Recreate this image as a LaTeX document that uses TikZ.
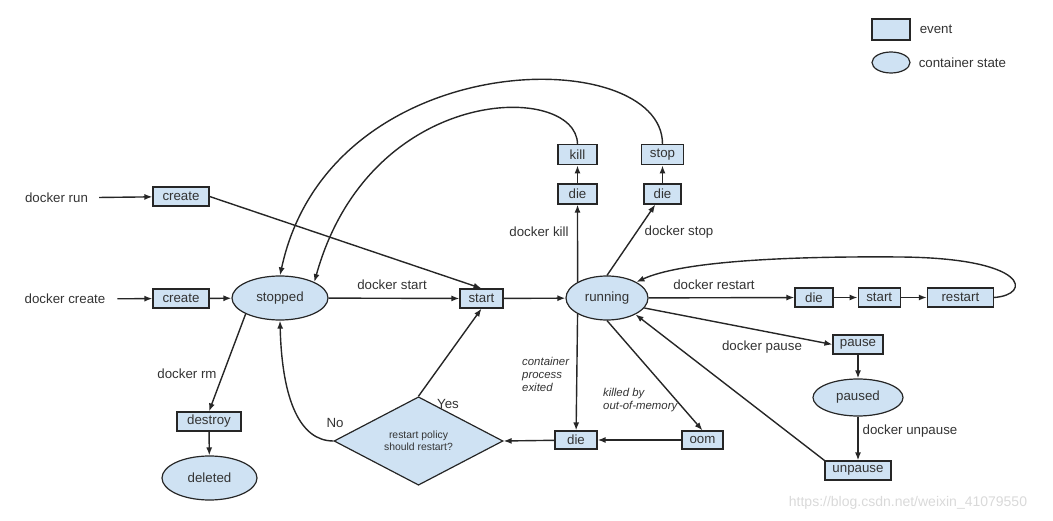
\documentclass[tikz,border=0pt]{standalone}
\usepackage{fontspec}
\setmainfont{Liberation Sans}
\usetikzlibrary{shapes,arrows.meta,positioning}
\definecolor{evfill}{HTML}{CFE2F3}
\definecolor{inkline}{HTML}{262626}
\definecolor{inktext}{HTML}{333333}
\newcommand*{\fsmain}{\fontsize{13.3pt}{15pt}\selectfont}
\newcommand*{\fsnote}{\fontsize{11.4pt}{13pt}\selectfont}
\newcommand*{\fsdiam}{\fontsize{10.4pt}{12pt}\selectfont}

\begin{document}
\begin{tikzpicture}[x=1pt, y=-1pt,
    block_event/.style ={rectangle, draw=inkline, line width=1.2pt, fill=evfill, font=\fsmain,
      text=inktext, inner sep=0pt, minimum height=19pt},
    block_state/.style ={ellipse, draw=inkline, line width=1.2pt, fill=evfill, font=\fsmain,
      text=inktext, inner sep=0pt, minimum width=90pt, minimum height=44pt},
    block_decision/.style ={diamond, draw=inkline, line width=1.2pt, fill=evfill, font=\fsdiam,
      text=inktext, align=center, inner sep=0pt, minimum width=169pt, minimum height=60pt},
    block_cmd/.style ={font=\fsmain, text=inktext, inner sep=0pt, inner xsep=11pt},
    block_note/.style ={font=\fsnote\itshape, text=inktext, align=left, inner sep=0pt, anchor=west},
    line/.style ={draw=inkline, line width=1.4pt, -{Latex[length=8pt,width=6pt]}}]
    \useasboundingbox (0,0) rectangle (1053,521);
    % legend
    \node [block_event, minimum width=38pt, minimum height=21pt] (keyevent) at (891,29.5) {};
    \node [font=\fsmain, text=inktext, anchor=west, inner sep=0pt] (keyeventtxt) [right=9pt of keyevent] {event};
    \node [block_state, minimum width=38pt, minimum height=21pt] (keystate) at (891,62.5) {};
    \node [font=\fsmain, text=inktext, anchor=west, inner sep=0pt] (keystatetxt) [right=8pt of keystate] {container state};
    % row: create
    \node [block_cmd] (cmdrun) at (56.5,198) {docker run};
    \node [block_event, minimum width=56pt] (createrun) at (181,196.5) {create};
    \node [block_cmd, inner xsep=12pt] (cmdcreate) at (65,299) {docker create};
    \node [block_event, minimum width=56pt] (create) at (181,298.5) {create};
    % row: main states
    \node [block_state, minimum width=96pt] (stopped) at (280,298) {stopped};
    \node [block_event, minimum width=43pt] (start) at (481.5,298.5) {start};
    \node [block_state, minimum width=82pt] (running) at (607,298) {running};
    % kill / stop
    \node [block_event, minimum width=39pt, minimum height=20pt] (diekill) at (577.5,194) {die};
    \node [block_event, minimum width=39pt, minimum height=20pt] (kill) [above=18pt of diekill] {kill};
    \node [block_event, minimum width=37pt, minimum height=20pt] (diestop) at (662.5,194) {die};
    \node [block_event, minimum width=42pt, minimum height=20pt] (stop) [above=18pt of diestop] {stop};
    % restart
    \node [block_event, minimum width=38pt] (dierestart) at (814,297.5) {die};
    \node [block_event, minimum width=42pt] (startrestart) [right=24pt of dierestart] {start};
    \node [block_event, minimum width=66pt] (restart) [right=26pt of startrestart] {restart};
    % pause
    \node [block_event, minimum width=50pt] (pause) at (858,344.5) {pause};
    \node [block_state, minimum height=37pt] (paused) at (858,397.5) {paused};
    \node [block_event, minimum width=66pt] (unpause) at (858,470.5) {unpause};
    % exit
    \node [block_event, minimum width=41pt, minimum height=18pt] (oom) at (702.5,440) {oom};
    \node [block_event, minimum width=42pt, minimum height=18pt] (dieexit) at (576,440) {die};
    \node [block_decision] (policy) at (418.5,441) {restart policy\\should restart?};
    % remove
    \node [block_event, minimum width=64pt] (destroy) at (209,421.5) {destroy};
    \node [block_state, minimum width=95pt] (deleted) at (209.5,478) {deleted};
    % labels
    \node [font=\fsmain, text=inktext] (lblstart) at (392,285) {docker start};
    \node [font=\fsmain, text=inktext] (lblkill) at (539,232) {docker kill};
    \node [font=\fsmain, text=inktext] (lblstop) at (679,232) {docker stop};
    \node [font=\fsmain, text=inktext] (lblrestart) at (714,285) {docker restart};
    \node [font=\fsmain, text=inktext] (lblpause) at (762,347) {docker pause};
    \node [font=\fsmain, text=inktext] (lblunpause) at (910,431) {docker unpause};
    \node [font=\fsmain, text=inktext] (lblrm) at (187,374) {docker rm};
    \node [font=\fsmain, text=inktext] (lblyes) at (448,404) {Yes};
    \node [font=\fsmain, text=inktext] (lblno) at (335,423) {No};
    \node [block_note] (lblexited) at (522,374) {container\\process\\exited};
    \node [block_note] (lbloom) at (603,400.5) {killed by\\out-of-memory};
    \node [font=\fontsize{14pt}{16pt}\selectfont, text=black!15] (watermark) at (908,503) {https://blog.csdn.net/weixin\_41079550};
    % connecting nodes with paths
    \begin{scope}[every path/.style=line]
      \path (cmdrun)       -- (createrun);
      \path (cmdcreate)    -- (create);
      \path (createrun.east) -- (start.north);
      \path (create)       -- (stopped);
      \path (stopped)      -- (start);
      \path (start)        -- (running);
      \path (running.north west) -- (diekill);
      \path (diekill)      -- (kill);
      \path (running.north) -- (diestop);
      \path (diestop)      -- (stop);
      \path (kill.north) .. controls (577,82) and (370,82) .. (stopped.north east);
      \path (stop.north) .. controls (663,43) and (330,43) .. (stopped.north);
      \path (running)      -- (dierestart);
      \path (dierestart)   -- (startrestart);
      \path (startrestart) -- (restart);
      \path (restart.east) .. controls (1032,295) and (1030,258) .. (900,257)
                           .. controls (780,256) and (680,262) .. (running.north east);
      \path (running.-15)  -- (pause.west);
      \path (pause)        -- (paused);
      \path (paused)       -- (unpause);
      \path (unpause.north west) -- (running.-30);
      \path (running.south west) -- (dieexit);
      \path (running.south) -- (oom.north);
      \path (oom)          -- (dieexit);
      \path (dieexit)      -- (policy.east);
      \path (policy.north) -- (start.south);
      \path (policy.west) .. controls (300,441) and (282,400) .. (stopped.south);
      \path (stopped.south west) -- (destroy.north);
      \path (destroy)      -- (deleted);
    \end{scope}
  \end{tikzpicture}
\end{document}
